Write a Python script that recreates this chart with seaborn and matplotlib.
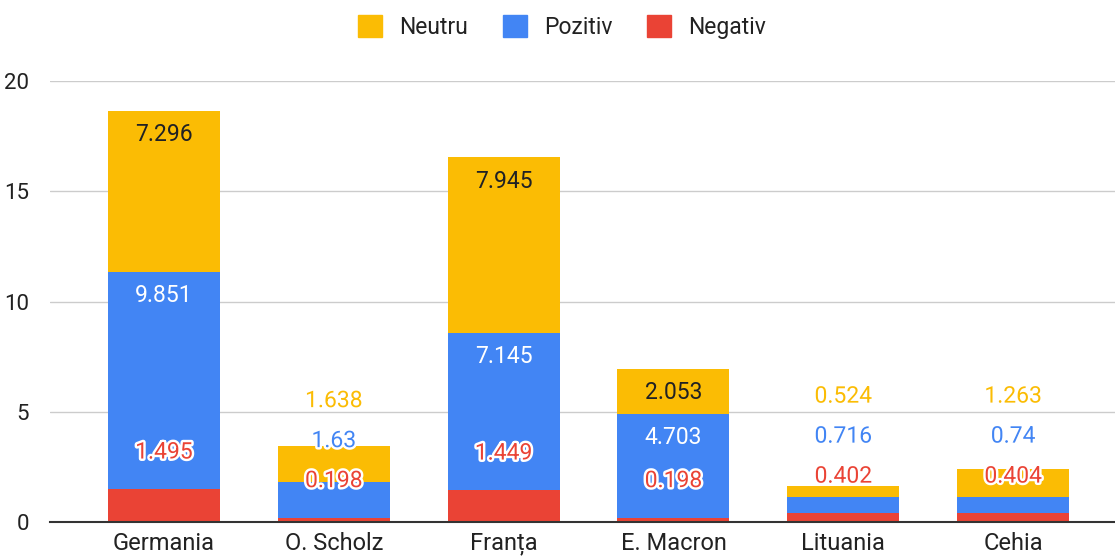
import matplotlib
matplotlib.use("Agg")
import matplotlib.pyplot as plt
import matplotlib.patheffects as pe
from matplotlib.patches import Patch
import numpy as np
import pandas as pd
import seaborn as sns

categories = ["Germania", "O. Scholz", "Franța", "E. Macron", "Lituania", "Cehia"]
negativ = [1.495, 0.198, 1.449, 0.198, 0.402, 0.404]
pozitiv = [9.851, 1.63, 7.145, 4.703, 0.716, 0.74]
neutru = [7.296, 1.638, 7.945, 2.053, 0.524, 1.263]

C_NEU = "#FBBC04"
C_POZ = "#4285F4"
C_NEG = "#EA4335"

df = pd.DataFrame({"cat": categories, "neg": negativ, "poz": pozitiv, "neu": neutru})
df["top_neg"] = df["neg"]
df["top_poz"] = df["neg"] + df["poz"]
df["top_neu"] = df["top_poz"] + df["neu"]

sns.set_style("white")
plt.rcParams["font.family"] = ["Roboto", "DejaVu Sans"]

fig = plt.figure(figsize=(11.15, 5.58), dpi=100)
ax = fig.add_axes([50 / 1115, 1 - 522 / 558, 1 - 50 / 1115, (522 - 81) / 558])

W = 0.66
sns.barplot(data=df, x="cat", y="top_neu", color=C_NEU, width=W, saturation=1, ax=ax, zorder=2)
sns.barplot(data=df, x="cat", y="top_poz", color=C_POZ, width=W, saturation=1, ax=ax, zorder=2)
sns.barplot(data=df, x="cat", y="top_neg", color=C_NEG, width=W, saturation=1, ax=ax, zorder=2)
for p in ax.patches:
    p.set_linewidth(0)

ax.set_xlim(-0.671, 5.60)
ax.set_ylim(0, 20)
ax.set_yticks([0, 5, 10, 15, 20])
ax.yaxis.grid(True, color="#cccccc", linewidth=1)
ax.set_axisbelow(True)
for s in ["top", "right", "left"]:
    ax.spines[s].set_visible(False)
ax.spines["bottom"].set_color("#333333")
ax.spines["bottom"].set_linewidth(1.5)
ax.spines["bottom"].set_zorder(3)
ax.set_xlabel("")
ax.set_ylabel("")
ax.tick_params(axis="both", length=0, labelsize=16, colors="#222222")
ax.tick_params(axis="x", labelsize=17, pad=7)
ax.tick_params(axis="y", pad=15)

# pixels per data unit, for label placement like the original chart
ppu = ax.transData.transform((0, 1))[1] - ax.transData.transform((0, 0))[1]
outline = [pe.withStroke(linewidth=3.5, foreground="white")]

for i in range(len(categories)):
    last = None
    layers = [
        (negativ[i], df["top_neg"][i], C_NEG, "white"),
        (pozitiv[i], df["top_poz"][i], C_POZ, "white"),
        (neutru[i], df["top_neu"][i], C_NEU, "#202124"),
    ]
    for val, top, col, inner in layers:
        h = val * ppu
        if h >= 44 and col != C_NEG:
            y = top - 24 / ppu
            color = inner
            eff = None
        else:
            y = top + 37 / ppu
            color = col
            eff = outline
        if last is not None and y < last + 40 / ppu:
            y = last + 40 / ppu
        last = y
        t = ax.text(i, y, f"{val:g}", ha="center", va="center", fontsize=16.5,
                    color=color, zorder=5)
        if eff:
            t.set_path_effects(eff)

handles = [Patch(color=C_NEU, label="Neutru"), Patch(color=C_POZ, label="Pozitiv"),
           Patch(color=C_NEG, label="Negativ")]
fig.legend(handles=handles, loc="center", bbox_to_anchor=(562 / 1115, 1 - 27 / 558),
           ncol=3, frameon=False, fontsize=16.5, handlelength=1.05, handleheight=1.05,
           columnspacing=1.5, handletextpad=0.75, labelcolor="#222222")

fig.savefig("out.png", dpi=100)
